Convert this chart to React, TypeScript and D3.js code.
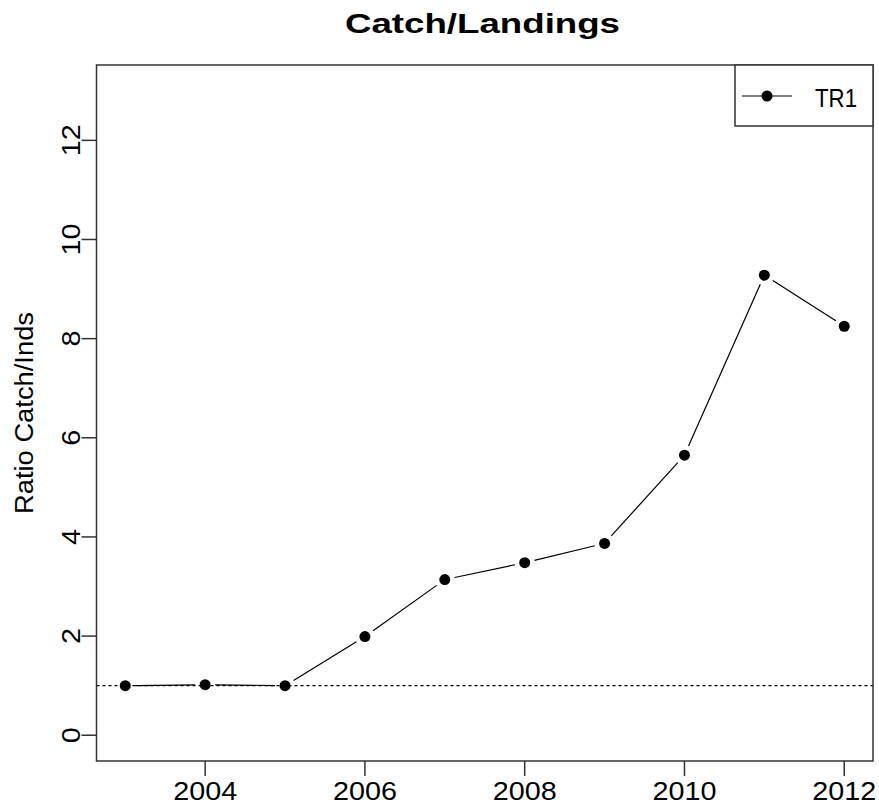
import { useEffect, useRef } from "react";
import * as d3 from "d3";

const years = [2003, 2004, 2005, 2006, 2007, 2008, 2009, 2010, 2011, 2012];
const ratios = [1.0, 1.02, 1.0, 1.99, 3.14, 3.48, 3.87, 5.65, 9.28, 8.25];
const xTicks = [2004, 2006, 2008, 2010, 2012];
const yTicks = [0, 2, 4, 6, 8, 10, 12];
const seriesName = "TR1";
const refLine = 1;

const W = 879;
const H = 808;
const FONT = "'Liberation Sans', Arial, Helvetica, sans-serif";

const App = () => {
  const svgRef = useRef<SVGSVGElement>(null);

  useEffect(() => {
    if (!svgRef.current) return;
    const svg = d3.select(svgRef.current);
    svg.selectAll("*").remove();

    const left = 96.5, right = 873, top = 65, bottom = 761;

    // R-style 4% padding around the data range
    const x = d3.scaleLinear().domain([2002.64, 2012.36]).range([left, right]);
    const y = d3.scaleLinear().domain([-0.52, 13.52]).range([bottom, top]);

    // title (the original's glyphs are drawn wide, so stretch to its width)
    svg
      .append("text")
      .attr("x", 482.5)
      .attr("y", 33)
      .attr("text-anchor", "middle")
      .attr("font-family", FONT)
      .attr("font-weight", "bold")
      .attr("font-size", 28)
      .attr("textLength", 275)
      .attr("lengthAdjust", "spacingAndGlyphs")
      .attr("fill", "#000")
      .text("Catch/Landings");

    // y label
    svg
      .append("text")
      .attr("transform", `translate(33, ${(top + bottom) / 2}) rotate(-90)`)
      .attr("text-anchor", "middle")
      .attr("font-family", FONT)
      .attr("font-size", 25.5)
      .attr("textLength", 202)
      .attr("lengthAdjust", "spacingAndGlyphs")
      .attr("fill", "#000")
      .text("Ratio Catch/Inds");

    // reference line at 1
    svg
      .append("line")
      .attr("x1", left)
      .attr("x2", right)
      .attr("y1", y(refLine))
      .attr("y2", y(refLine))
      .attr("stroke", "#000")
      .attr("stroke-width", 1.2)
      .attr("stroke-dasharray", "3,3");

    // line segments with gaps (type = "b")
    const pts = years.map((yr, i) => [x(yr), y(ratios[i])]);
    const gap = 10;
    for (let i = 0; i < pts.length - 1; i++) {
      const [x0, y0] = pts[i];
      const [x1, y1] = pts[i + 1];
      const dx = x1 - x0, dy = y1 - y0;
      const len = Math.hypot(dx, dy);
      if (len <= 2 * gap) continue;
      const ux = dx / len, uy = dy / len;
      svg
        .append("line")
        .attr("x1", x0 + ux * gap)
        .attr("y1", y0 + uy * gap)
        .attr("x2", x1 - ux * gap)
        .attr("y2", y1 - uy * gap)
        .attr("stroke", "#000")
        .attr("stroke-width", 1.2);
    }

    svg
      .selectAll(".pt")
      .data(years)
      .enter()
      .append("circle")
      .attr("class", "pt")
      .attr("cx", (d) => x(d))
      .attr("cy", (_d, i) => y(ratios[i]))
      .attr("r", 5.5)
      .attr("fill", "#000");

    // box
    svg
      .append("rect")
      .attr("x", left)
      .attr("y", top)
      .attr("width", right - left)
      .attr("height", bottom - top)
      .attr("fill", "none")
      .attr("stroke", "#333")
      .attr("stroke-width", 1.5);

    // x axis
    const xa = svg.append("g");
    xTicks.forEach((t) => {
      xa.append("line")
        .attr("x1", x(t))
        .attr("x2", x(t))
        .attr("y1", bottom)
        .attr("y2", bottom + 15)
        .attr("stroke", "#333")
        .attr("stroke-width", 1.5);
      xa.append("text")
        .attr("x", x(t))
        .attr("y", 800)
        .attr("text-anchor", "middle")
        .attr("font-family", FONT)
        .attr("font-size", 25.5)
        .attr("textLength", 64)
        .attr("lengthAdjust", "spacingAndGlyphs")
        .attr("fill", "#000")
        .text(t);
    });

    // y axis
    const ya = svg.append("g");
    yTicks.forEach((t) => {
      const s = String(t);
      ya.append("line")
        .attr("x1", left - 15)
        .attr("x2", left)
        .attr("y1", y(t))
        .attr("y2", y(t))
        .attr("stroke", "#333")
        .attr("stroke-width", 1.5);
      ya.append("text")
        .attr("transform", `translate(80, ${y(t)}) rotate(-90)`)
        .attr("text-anchor", "middle")
        .attr("font-family", FONT)
        .attr("font-size", 25.5)
        .attr("textLength", 16 * s.length)
        .attr("lengthAdjust", "spacingAndGlyphs")
        .attr("fill", "#000")
        .text(s);
    });

    // legend
    const lg = svg.append("g");
    lg.append("rect")
      .attr("x", 735)
      .attr("y", top)
      .attr("width", right - 735)
      .attr("height", 126 - top)
      .attr("fill", "#fff")
      .attr("stroke", "#333")
      .attr("stroke-width", 1.5);
    lg.append("line")
      .attr("x1", 742)
      .attr("x2", 792)
      .attr("y1", 96)
      .attr("y2", 96)
      .attr("stroke", "#000")
      .attr("stroke-width", 1.2);
    lg.append("circle").attr("cx", 767).attr("cy", 96).attr("r", 5.5).attr("fill", "#000");
    lg.append("text")
      .attr("x", 815)
      .attr("y", 107)
      .attr("font-family", FONT)
      .attr("font-size", 25)
      .attr("textLength", 42)
      .attr("lengthAdjust", "spacingAndGlyphs")
      .attr("fill", "#000")
      .text(seriesName);
  }, []);

  return (
    <svg
      ref={svgRef}
      width={W}
      height={H}
      style={{ position: "absolute", left: 0, top: 0, background: "#fff" }}
    />
  );
};

export default App;
